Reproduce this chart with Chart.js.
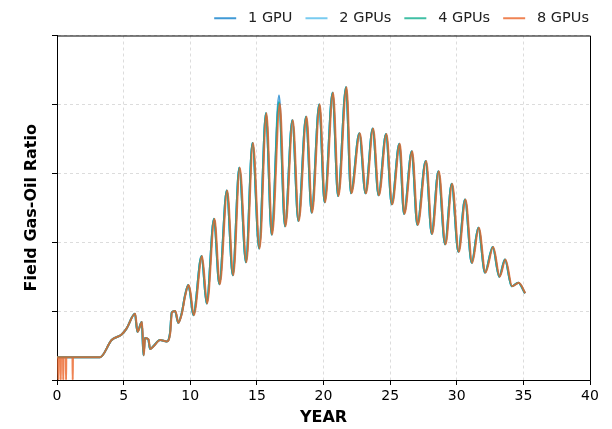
<!DOCTYPE html>
<html>
<head>
<meta charset="utf-8">
<script src="https://cdn.jsdelivr.net/npm/chart.js@4"></script>
<style>
  html, body { margin: 0; padding: 0; background: #fff; }
  #wrap { width: 612px; height: 429px; position: relative; }
</style>
</head>
<body>
<div id="wrap"><canvas id="gorChart"></canvas></div>
<script>
// --- Data ---
const seriesLabels = ['1 GPU', '2 GPUs', '4 GPUs', '8 GPUs'];

const yearsMain = [0, 3.23, 4.1, 4.85, 5.23, 5.85, 6.03, 6.36, 6.49, 6.6, 6.85, 6.98, 7.23, 7.73, 8.23, 8.48,
  8.61, 8.86, 9.1, 9.36, 9.61, 9.85, 9.98, 10.23, 10.85, 11.23, 11.78, 12.18, 12.74, 13.19, 13.68, 14.18, 14.67, 15.17,
  15.68, 16.11, 16.66, 17.11, 17.66, 18.11, 18.69, 19.11, 19.68, 20.08, 20.68, 21.09, 21.69, 22.06, 22.69, 23.15,
  23.69, 24.13, 24.69, 25.12, 25.69, 26.04, 26.62, 27.04, 27.67, 28.12, 28.62, 29.12, 29.62, 30.12, 30.62, 31.12,
  31.62, 32.12, 32.7, 33.19, 33.62, 34.12, 34.62, 35.12];

const gor1 = [0.33, 0.33, 0.58, 0.66, 0.75, 0.96, 0.70, 0.84, 0.36, 0.61, 0.59, 0.45, 0.49, 0.58, 0.56, 0.68,
  0.98, 1.00, 0.83, 0.97, 1.23, 1.38, 1.28, 0.94, 1.80, 1.11, 2.34, 1.39, 2.75, 1.52, 3.08, 1.71, 3.44, 1.91,
  3.87, 2.11, 4.13, 2.23, 3.77, 2.31, 3.82, 2.43, 4.00, 2.58, 4.17, 2.67, 4.25, 2.71, 3.58, 2.71,
  3.65, 2.68, 3.57, 2.55, 3.43, 2.41, 3.32, 2.25, 3.18, 2.12, 3.03, 1.97, 2.85, 1.86, 2.62, 1.70,
  2.21, 1.56, 1.93, 1.50, 1.75, 1.36, 1.41, 1.26];

const gor2 = [0.33, 0.33, 0.58, 0.66, 0.75, 0.96, 0.70, 0.84, 0.36, 0.61, 0.59, 0.45, 0.49, 0.58, 0.56, 0.68,
  0.98, 1.00, 0.83, 0.97, 1.23, 1.38, 1.28, 0.94, 1.80, 1.11, 2.34, 1.39, 2.75, 1.52, 3.08, 1.71, 3.44, 1.91,
  3.87, 2.11, 4.04, 2.23, 3.77, 2.31, 3.82, 2.43, 4.00, 2.58, 4.17, 2.67, 4.25, 2.71, 3.58, 2.71,
  3.65, 2.68, 3.57, 2.55, 3.43, 2.41, 3.32, 2.25, 3.18, 2.12, 3.03, 1.97, 2.85, 1.86, 2.62, 1.70,
  2.21, 1.56, 1.93, 1.50, 1.75, 1.36, 1.41, 1.26];

const gor4 = [0.33, 0.33, 0.58, 0.66, 0.75, 0.96, 0.70, 0.84, 0.36, 0.61, 0.59, 0.45, 0.49, 0.58, 0.56, 0.68,
  0.98, 1.00, 0.83, 0.97, 1.23, 1.38, 1.28, 0.94, 1.80, 1.11, 2.34, 1.39, 2.75, 1.52, 3.08, 1.71, 3.44, 1.91,
  3.87, 2.11, 4.03, 2.23, 3.77, 2.31, 3.82, 2.43, 4.00, 2.58, 4.17, 2.67, 4.25, 2.71, 3.58, 2.71,
  3.65, 2.68, 3.57, 2.55, 3.43, 2.41, 3.32, 2.25, 3.18, 2.12, 3.03, 1.97, 2.85, 1.86, 2.62, 1.70,
  2.21, 1.56, 1.93, 1.50, 1.75, 1.36, 1.41, 1.26];

// 8 GPUs: early drop-outs to zero, curve sits a touch later in time
const years8 = [0, 0.08, 0.1, 0.12, 0.26, 0.28, 0.3, 0.45, 0.47, 0.49, 0.66, 0.68, 0.7, 1.16, 1.18, 1.2,
  3.23, 4.1, 4.85, 5.23, 5.87, 6.05, 6.38, 6.51, 6.62, 6.87, 7.0, 7.25, 7.75, 8.25, 8.5,
  8.63, 8.88, 9.12, 9.38, 9.63, 9.88, 10.01, 10.27, 10.89, 11.27, 11.82, 12.22, 12.78, 13.23, 13.72, 14.22, 14.71, 15.21,
  15.72, 16.15, 16.72, 17.15, 17.7, 18.15, 18.73, 19.15, 19.72, 20.12, 20.72, 21.13, 21.73, 22.1, 22.73, 23.19,
  23.73, 24.17, 24.73, 25.16, 25.73, 26.08, 26.66, 27.08, 27.71, 28.16, 28.66, 29.16, 29.66, 30.16, 30.66, 31.16,
  31.66, 32.16, 32.74, 33.23, 33.66, 34.16, 34.66, 35.14];

const gor8 = [0.33, 0.33, 0, 0.33, 0.33, 0, 0.33, 0.33, 0, 0.33, 0.33, 0, 0.33, 0.33, 0, 0.33,
  0.33, 0.58, 0.66, 0.75, 0.96, 0.70, 0.84, 0.36, 0.61, 0.59, 0.45, 0.49, 0.58, 0.56, 0.68,
  0.98, 1.00, 0.83, 0.97, 1.23, 1.38, 1.28, 0.94, 1.80, 1.11, 2.34, 1.39, 2.75, 1.52, 3.08, 1.71, 3.44, 1.91,
  3.87, 2.11, 4.01, 2.23, 3.77, 2.31, 3.82, 2.43, 4.00, 2.58, 4.17, 2.67, 4.25, 2.71, 3.58, 2.71,
  3.65, 2.68, 3.57, 2.55, 3.43, 2.41, 3.32, 2.25, 3.18, 2.12, 3.03, 1.97, 2.85, 1.86, 2.62, 1.70,
  2.21, 1.56, 1.93, 1.50, 1.75, 1.36, 1.41, 1.26];

const xTicks = [0, 5, 10, 15, 20, 25, 30, 35, 40];

// --- Styling ---
const FONT = 'DejaVu Sans';
const lineColors = [
  'rgba(0, 120, 200, 0.75)',
  'rgba(75, 185, 235, 0.75)',
  'rgba(0, 170, 135, 0.75)',
  'rgba(235, 100, 40, 0.8)'
];

function toPoints(xs, ys) {
  return xs.map((x, i) => ({ x: x, y: ys[i] }));
}

const seriesData = [
  toPoints(yearsMain, gor1),
  toPoints(yearsMain, gor2),
  toPoints(yearsMain, gor4),
  toPoints(years8, gor8)
];

// top + right spines, like the matplotlib frame
const framePlugin = {
  id: 'frame',
  afterDraw(chart) {
    const { ctx, chartArea: a } = chart;
    ctx.save();
    ctx.strokeStyle = '#000';
    ctx.lineWidth = 1;
    ctx.beginPath();
    ctx.moveTo(a.left, a.top + 0.5);
    ctx.lineTo(a.right + 0.5, a.top + 0.5);
    ctx.lineTo(a.right + 0.5, a.bottom);
    ctx.stroke();
    ctx.restore();
  }
};

new Chart(document.getElementById('gorChart'), {
  type: 'line',
  data: {
    datasets: seriesLabels.map((label, i) => ({
      label: label,
      data: seriesData[i],
      borderColor: lineColors[i],
      backgroundColor: lineColors[i],
      borderWidth: 2,
      pointRadius: 0,
      cubicInterpolationMode: 'monotone',
      fill: false,
      order: seriesLabels.length - i   // later series drawn on top
    }))
  },
  options: {
    responsive: true,
    maintainAspectRatio: false,
    animation: false,
    layout: { padding: { left: 0, right: 10, top: -2, bottom: 0 } },
    scales: {
      x: {
        type: 'linear',
        min: 0, max: 40,
        afterBuildTicks: (scale) => { scale.ticks = xTicks.map(v => ({ value: v })); },
        afterFit: (scale) => { scale.height = 49; },
        ticks: { color: '#000', font: { family: FONT, size: 14 }, padding: 3, maxRotation: 0 },
        grid: { color: '#d4d4d4', lineWidth: 0.8, tickColor: '#000', tickLength: 5, tickWidth: 1 },
        border: { color: '#000', width: 1, dash: [3, 3] },
        title: { display: true, text: 'YEAR', color: '#000', font: { family: FONT, size: 16, weight: 'bold' }, padding: { top: 0, bottom: 2 } }
      },
      y: {
        min: 0, max: 5,
        ticks: { stepSize: 1, display: false },
        afterFit: (scale) => { scale.width = 57; },
        grid: { color: '#d4d4d4', lineWidth: 0.8, tickColor: '#000', tickLength: 5, tickWidth: 1 },
        border: { color: '#000', width: 1, dash: [3, 3] },
        title: { display: true, text: 'Field Gas-Oil Ratio', color: '#000', font: { family: FONT, size: 16, weight: 'bold' }, padding: { top: 22, bottom: 0 } }
      },
      // empty right-hand strip so the plot ends where the reference frame does
      yRight: {
        position: 'right',
        min: 0, max: 5,
        ticks: { display: false },
        grid: { display: false, drawTicks: false },
        border: { display: false },
        afterFit: (scale) => { scale.width = 12; }
      }
    },
    plugins: {
      legend: {
        position: 'top',
        align: 'end',
        labels: {
          usePointStyle: true,
          pointStyle: 'line',
          pointStyleWidth: 22,
          color: '#222',
          font: { family: FONT, size: 14.5 },
          padding: 13,
          generateLabels: (chart) => {
            const items = Chart.defaults.plugins.legend.labels.generateLabels(chart);
            items.forEach(it => { it.text = ' ' + it.text; });
            return items.sort((a, b) => a.datasetIndex - b.datasetIndex);
          }
        }
      },
      tooltip: { enabled: false }
    }
  },
  plugins: [framePlugin]
});
</script>
</body>
</html>
